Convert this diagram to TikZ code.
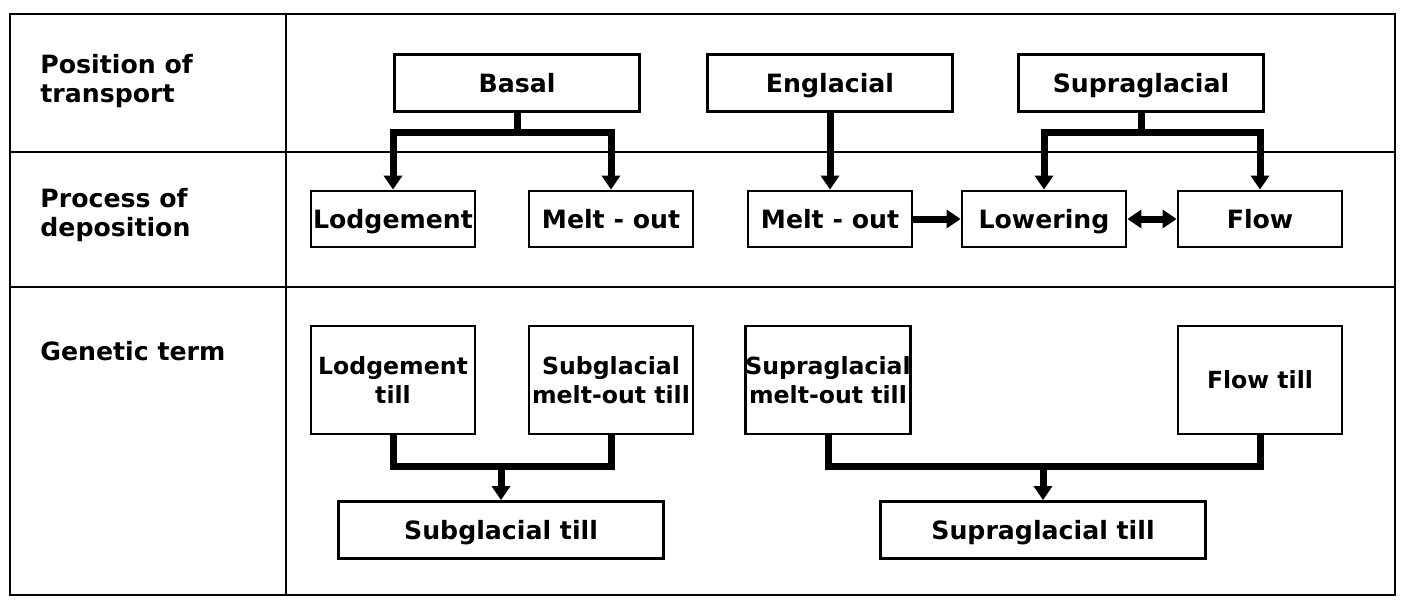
\documentclass[tikz,border=0pt]{standalone}
\usepackage{fontspec}
\setmainfont{DejaVu Sans}
\usetikzlibrary{arrows.meta}
\tikzset{TillChart/.style = {% styles of the till classification chart
     font = \fontsize{12.6}{14.5}\selectfont\bfseries,
     rule/.style = {line width=1.1pt},
      box/.style = {rectangle, draw, line width=1.4pt, inner sep=0pt,
                    align=center},
  linebox/.style = {box, text height=10.5pt, text depth=1.5pt},
  widebox/.style = {linebox, minimum width=122.5pt, minimum height=28.5pt},
   procbox/.style = {linebox, minimum width=82pt, minimum height=28pt},
   tallbox/.style = {box, minimum width=82pt, minimum height=54pt,
                     font=\fontsize{11.8}{14.5}\selectfont\bfseries},
   tillbox/.style = {linebox, minimum width=162.5pt, minimum height=28.5pt},
  rowlabel/.style = {anchor=north west, inner sep=0pt, align=left},
      line/.style = {line width=3.5pt},
     arrow/.style = {line, -{Triangle[width=9pt,length=7pt]}},
    darrow/.style = {line, {Triangle[width=9pt,length=7pt]}-{Triangle[width=9pt,length=7pt]}}}
        }

\begin{document}
\begin{tikzpicture}[TillChart, x=0.5pt, y=-0.5pt]
\useasboundingbox (0,0) rectangle (1404,605);

% table
\draw [rule] (10,14) rectangle (1395,595);
\draw [rule] (286,14) -- (286,595);
\draw [rule] (10,152) -- (1395,152);
\draw [rule] (10,287) -- (1395,287);

% row labels
\node (rowpos)  [rowlabel] at (40,54)  {Position of\\transport};
\node (rowproc) [rowlabel] at (40,188) {Process of\\deposition};
\node (rowgen)  [rowlabel] at (40,341) {Genetic  term};

% nodes
\node (basal)    [widebox] at (517,83)    {Basal};
\node (englac)   [widebox] at (830,83)    {Englacial};
\node (supra)    [widebox] at (1141,83)   {Supraglacial};

\node (lodge)    [procbox] at (393,219)   {Lodgement};
\node (meltb)    [procbox] at (611,219)   {Melt - out};
\node (melte)    [procbox] at (830,219)   {Melt - out};
\node (lower)    [procbox] at (1044,219)  {Lowering};
\node (flow)     [procbox] at (1260,219)  {Flow};

\node (lodgetill) [tallbox] at (393,380)  {Lodgement\\till};
\node (submelt)   [tallbox] at (611,380)  {Subglacial\\melt-out till};
\node (supmelt)   [tallbox] at (828,380)  {Supraglacial\\melt-out till};
\node (flowtill)  [tallbox] at (1260,380) {Flow  till};

\node (subtill)  [tillbox] at (501,530)   {Subglacial till};
\node (suptill)  [tillbox] at (1043,530)  {Supraglacial till};

\coordinate (subjoin) at ([yshift=17pt]subtill.north);
\coordinate (supjoin) at ([yshift=17pt]suptill.north);

% connectors
\draw [arrow]  (basal.south) -- ++(0,20) -| (lodge.north);
\draw [arrow]  (basal.south) -- ++(0,20) -| (meltb.north);
\draw [arrow]  (englac.south) -- (melte.north);
\draw [arrow]  (supra.south) -- ++(0,20) -| (lower.north);
\draw [arrow]  (supra.south) -- ++(0,20) -| (flow.north);
\draw [arrow]  (melte.east) -- (lower.west);
\draw [darrow] (lower.east) -- (flow.west);

\draw [line]   (lodgetill.south) |- (subjoin) -| (submelt.south);
\draw [arrow]  (subjoin) -- (subtill.north);
\draw [line]   (supmelt.south) |- (supjoin) -| (flowtill.south);
\draw [arrow]  (supjoin) -- (suptill.north);

\end{tikzpicture}
\end{document}
